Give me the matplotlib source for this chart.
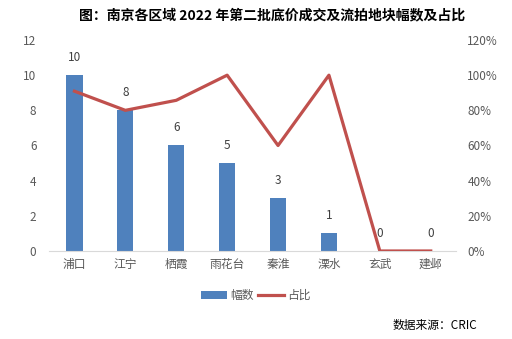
import numpy as np
import matplotlib.pyplot as plt
from matplotlib.ticker import FuncFormatter

plt.rcParams['font.family'] = ['Noto Sans CJK SC', 'DejaVu Sans']

districts = ['浦口', '江宁', '栖霞', '雨花台', '秦淮', '溧水', '玄武', '建邺']
counts = [10, 8, 6, 5, 3, 1, 0, 0]
ratios = [0.909, 0.80, 0.857, 1.0, 0.60, 1.0, 0.0, 0.0]

bar_color = '#4F81BD'
line_color = '#C0504D'
text_gray = '#595959'

fig = plt.figure(figsize=(5.12, 3.39), dpi=100)
ax = fig.add_axes([0.0957, 0.2596, 0.7953, 0.6224])
x = np.arange(len(districts))

bars = ax.bar(x, counts, width=0.32, color=bar_color, label='幅数', zorder=2)
for xi, c in zip(x, counts):
    ax.annotate(str(c), (xi, c), xytext=(0, 8), textcoords='offset points',
                ha='center', va='bottom', fontsize=8.5, color='#404040')

ax.set_xlim(-0.5, len(districts) - 0.5)
ax.set_ylim(0, 12)
ax.set_yticks(range(0, 13, 2))
ax.set_xticks(x)
ax.set_xticklabels(districts)
ax.tick_params(axis='both', length=0, labelsize=8.5, colors=text_gray)
ax.tick_params(axis='y', pad=9)
ax.tick_params(axis='x', pad=5)
for s in ['top', 'right', 'left']:
    ax.spines[s].set_visible(False)
ax.spines['bottom'].set_color('#D9D9D9')

ax2 = ax.twinx()
line, = ax2.plot(x, ratios, color=line_color, lw=2.3, label='占比', zorder=3)
ax2.set_ylim(0, 1.2)
ax2.set_yticks(np.arange(0, 1.21, 0.2))
ax2.yaxis.set_major_formatter(FuncFormatter(lambda v, p: f'{v*100:.0f}%'))
ax2.tick_params(axis='y', length=0, labelsize=8.5, colors=text_gray, pad=8)
for s in ['top', 'right', 'left', 'bottom']:
    ax2.spines[s].set_visible(False)

fig.legend([bars, line], ['幅数', '占比'], loc='center', bbox_to_anchor=(0.5, 0.128),
           ncol=2, frameon=False, fontsize=8.5, handlelength=2.2, handletextpad=0.3,
           columnspacing=0.3, labelcolor=text_gray)

fig.text(0.532, 0.955, '图：南京各区域 2022 年第二批底价成交及流拍地块幅数及占比',
         ha='center', va='center', fontsize=10, fontweight='bold')
fig.text(0.932, 0.04, '数据来源：CRIC', ha='right', va='center', fontsize=8.5)

fig.savefig('out.png', dpi=100)
